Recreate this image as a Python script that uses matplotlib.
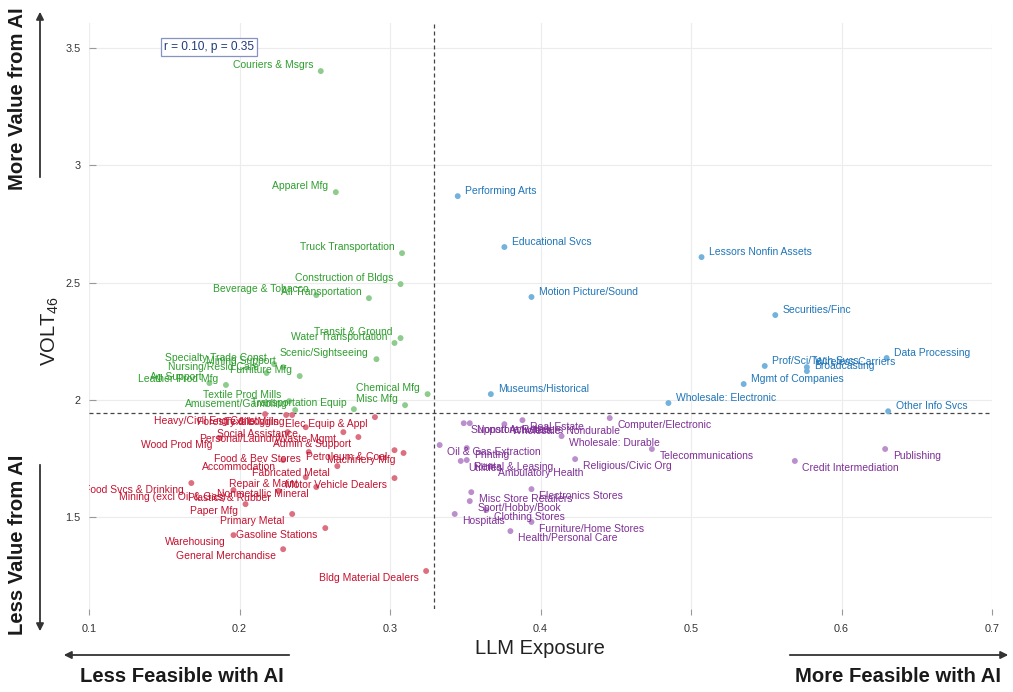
import matplotlib
matplotlib.use("Agg")
import matplotlib.pyplot as plt
from matplotlib.patches import FancyArrowPatch

plt.rcParams["font.family"] = ["Liberation Sans", "DejaVu Sans"]
plt.rcParams["mathtext.default"] = "regular"

# Industry-level LLM exposure vs. VOLT46 value score
industries = [
    # upper-left group
    "Couriers & Msgrs", "Apparel Mfg", "Truck Transportation", "Construction of Bldgs",
    "Beverage & Tobacco", "All Transportation", "Transit & Ground", "Water Transportation",
    "Scenic/Sightseeing", "Specialty Trade Const", "Mining Support", "Nursing/Resid Care",
    "Furniture Mfg", "Leather Prod Mfg", "Ag Support", "Textile Prod Mills",
    "Amusement/Gambling", "Transportation Equip", "Chemical Mfg", "Misc Mfg",
    # upper-right group
    "Performing Arts", "Educational Svcs", "Lessors Nonfin Assets", "Motion Picture/Sound",
    "Securities/Finc", "Data Processing", "Prof/Sci/Tech Svcs", "Wireless Carriers",
    "Broadcasting", "Mgmt of Companies", "Wholesale: Electronic", "Other Info Svcs",
    "Museums/Historical",
    # lower-right group
    "Support Activities", "Nonstore Retailers", "Wholesale: Nondurable", "Real Estate",
    "Computer/Electronic", "Wholesale: Durable", "Oil & Gas Extraction", "Printing",
    "Utilities", "Rental & Leasing", "Ambulatory Health", "Religious/Civic Org",
    "Telecommunications", "Publishing", "Credit Intermediation", "Electronics Stores",
    "Misc Store Retailers", "Sport/Hobby/Book", "Hospitals", "Clothing Stores",
    "Furniture/Home Stores", "Health/Personal Care",
    # lower-left group
    "Heavy/Civil Eng Const", "Textile Mills", "Forestry & Logging", "Elec Equip & Appl",
    "Social Assistance", "Personal/Laundry", "Waste Mgmt", "Admin & Support",
    "Wood Prod Mfg", "Petroleum & Coal", "Machinery Mfg", "Food & Bev Stores",
    "Accommodation", "Fabricated Metal", "Motor Vehicle Dealers", "Food Svcs & Drinking",
    "Repair & Maint", "Nonmetallic Mineral", "Mining (excl Oil & Gas)", "Plastics & Rubber",
    "Paper Mfg", "Primary Metal", "Gasoline Stations", "Warehousing",
    "General Merchandise", "Bldg Material Dealers",
]

llm_exposure = [
    0.254, 0.264, 0.308, 0.307, 0.251, 0.286, 0.307, 0.303,
    0.291, 0.223, 0.229, 0.218, 0.240, 0.191, 0.180, 0.233,
    0.237, 0.276, 0.325, 0.310,
    0.345, 0.376, 0.507, 0.394, 0.556, 0.630, 0.549, 0.577,
    0.577, 0.535, 0.485, 0.631, 0.367,
    0.349, 0.353, 0.376, 0.388, 0.446, 0.414, 0.333, 0.351,
    0.347, 0.351, 0.367, 0.423, 0.474, 0.629, 0.569, 0.394,
    0.354, 0.353, 0.343, 0.364, 0.394, 0.380,
    0.217, 0.231, 0.235, 0.290, 0.244, 0.232, 0.269, 0.279,
    0.187, 0.303, 0.309, 0.246, 0.229, 0.265, 0.303, 0.168,
    0.244, 0.251, 0.196, 0.226, 0.204, 0.235, 0.257, 0.196,
    0.229, 0.324,
]

volt46 = [
    3.402, 2.886, 2.626, 2.494, 2.447, 2.434, 2.264, 2.243,
    2.174, 2.153, 2.140, 2.115, 2.102, 2.064, 2.072, 1.995,
    1.957, 1.961, 2.025, 1.978,
    2.869, 2.652, 2.609, 2.439, 2.362, 2.179, 2.145, 2.140,
    2.123, 2.068, 1.987, 1.952, 2.025,
    1.901, 1.901, 1.897, 1.914, 1.923, 1.846, 1.808, 1.795,
    1.740, 1.744, 1.718, 1.748, 1.791, 1.791, 1.740, 1.620,
    1.607, 1.569, 1.514, 1.531, 1.480, 1.441,
    1.940, 1.936, 1.936, 1.927, 1.884, 1.863, 1.863, 1.842,
    1.838, 1.786, 1.774, 1.778, 1.744, 1.718, 1.667, 1.646,
    1.671, 1.629, 1.616, 1.612, 1.556, 1.514, 1.454, 1.424,
    1.364, 1.271,
]

# reference lines (sample means) and correlation summary
x_mean = 0.329
y_mean = 1.946
corr_text = "r = 0.10, p = 0.35"

x_ticks = [0.1, 0.2, 0.3, 0.4, 0.5, 0.6, 0.7]
y_ticks = [1.5, 2.0, 2.5, 3.0, 3.5]
y_ticklabels = ["1.5", "2", "2.5", "3", "3.5"]

# quadrant styling: (label colour, point colour, text offset in points, ha)
quad_style = {
    "UL": ("#2e9e2e", "#8dcc8d", (-5.5, 4.2), "right"),
    "UR": ("#1f75b8", "#72b2dc", (5.5, 3.8), "left"),
    "LR": ("#7e2f96", "#bb8fcc", (5.5, -5.0), "left"),
    "LL": ("#c4122f", "#dc6f80", (-5.5, -5.0), "right"),
}


def quadrant(x, y):
    if y >= y_mean:
        return "UR" if x >= x_mean else "UL"
    return "LR" if x >= x_mean else "LL"


W, H = 1013, 692
fig = plt.figure(figsize=(W / 100, H / 100), dpi=100)
ax = fig.add_axes([89 / W, 1 - 609 / H, 903 / W, 586 / H])

ax.set_xlim(0.102, 0.7)
ax.set_ylim(1.109, 3.607)

ax.set_xticks(x_ticks)
ax.set_xticklabels([f"{t:.1f}" for t in x_ticks])
ax.set_yticks(y_ticks)
ax.set_yticklabels(y_ticklabels)
ax.grid(True, color="#ececec", linewidth=0.8, zorder=0)
ax.set_axisbelow(True)
for s in ax.spines.values():
    s.set_visible(False)
ax.tick_params(axis="x", direction="out", length=4, width=0.8, color="#999999",
               labelsize=7.8, labelcolor="#333333", pad=7)
ax.tick_params(axis="y", direction="in", length=5, width=0.8, color="#999999",
               labelsize=7.8, labelcolor="#333333", pad=6)

ax.axvline(x_mean, color="#444444", linewidth=0.9, dashes=(3.2, 2.4), zorder=1)
ax.axhline(y_mean, color="#444444", linewidth=0.9, dashes=(3.2, 2.4), zorder=1)

for name, x, y in zip(industries, llm_exposure, volt46):
    lab_c, pt_c, off, ha = quad_style[quadrant(x, y)]
    ax.scatter([x], [y], s=18, color=pt_c, edgecolors="none", zorder=2)
    ax.annotate(name, (x, y), xytext=off, textcoords="offset points",
                ha=ha, va="center", fontsize=7.5, color=lab_c,
                clip_on=True, zorder=3)

ax.text(0.133, 0.959, corr_text, transform=ax.transAxes, ha="center", va="center",
        fontsize=8.6, color="#22397a", zorder=4,
        bbox=dict(boxstyle="square,pad=0.25", facecolor="white",
                  edgecolor="#8593c4", linewidth=0.9))

# axis titles
fig.text(540 / W, 1 - 648 / H, "LLM Exposure", ha="center", va="center",
         fontsize=14.5, color="#222222")
fig.text(50 / W, 1 - 331 / H, r"VOLT$_{46}$", ha="center", va="center",
         rotation=90, fontsize=14.5, color="#222222")

# directional guides around the plot
arrow_kw = dict(arrowstyle="-|>", mutation_scale=11, linewidth=1.3,
                color="#333333", transform=fig.transFigure)
fig.add_artist(FancyArrowPatch((40 / W, 1 - 180 / H), (40 / W, 1 - 9 / H), **arrow_kw))
fig.add_artist(FancyArrowPatch((40 / W, 1 - 462 / H), (40 / W, 1 - 634 / H), **arrow_kw))
fig.add_artist(FancyArrowPatch((292 / W, 1 - 655 / H), (61 / W, 1 - 655 / H), **arrow_kw))
fig.add_artist(FancyArrowPatch((787 / W, 1 - 655 / H), (1011 / W, 1 - 655 / H), **arrow_kw))

guide_kw = dict(fontsize=14.6, fontweight="bold", color="#1a1a1a",
                ha="center", va="center")
fig.text(18 / W, 1 - 99 / H, "More Value from AI", rotation=90, **guide_kw)
fig.text(18 / W, 1 - 545 / H, "Less Value from AI", rotation=90, **guide_kw)
fig.text(182 / W, 1 - 677 / H, "Less Feasible with AI", **guide_kw)
fig.text(898 / W, 1 - 677 / H, "More Feasible with AI", **guide_kw)

fig.savefig("out.png", dpi=100)
